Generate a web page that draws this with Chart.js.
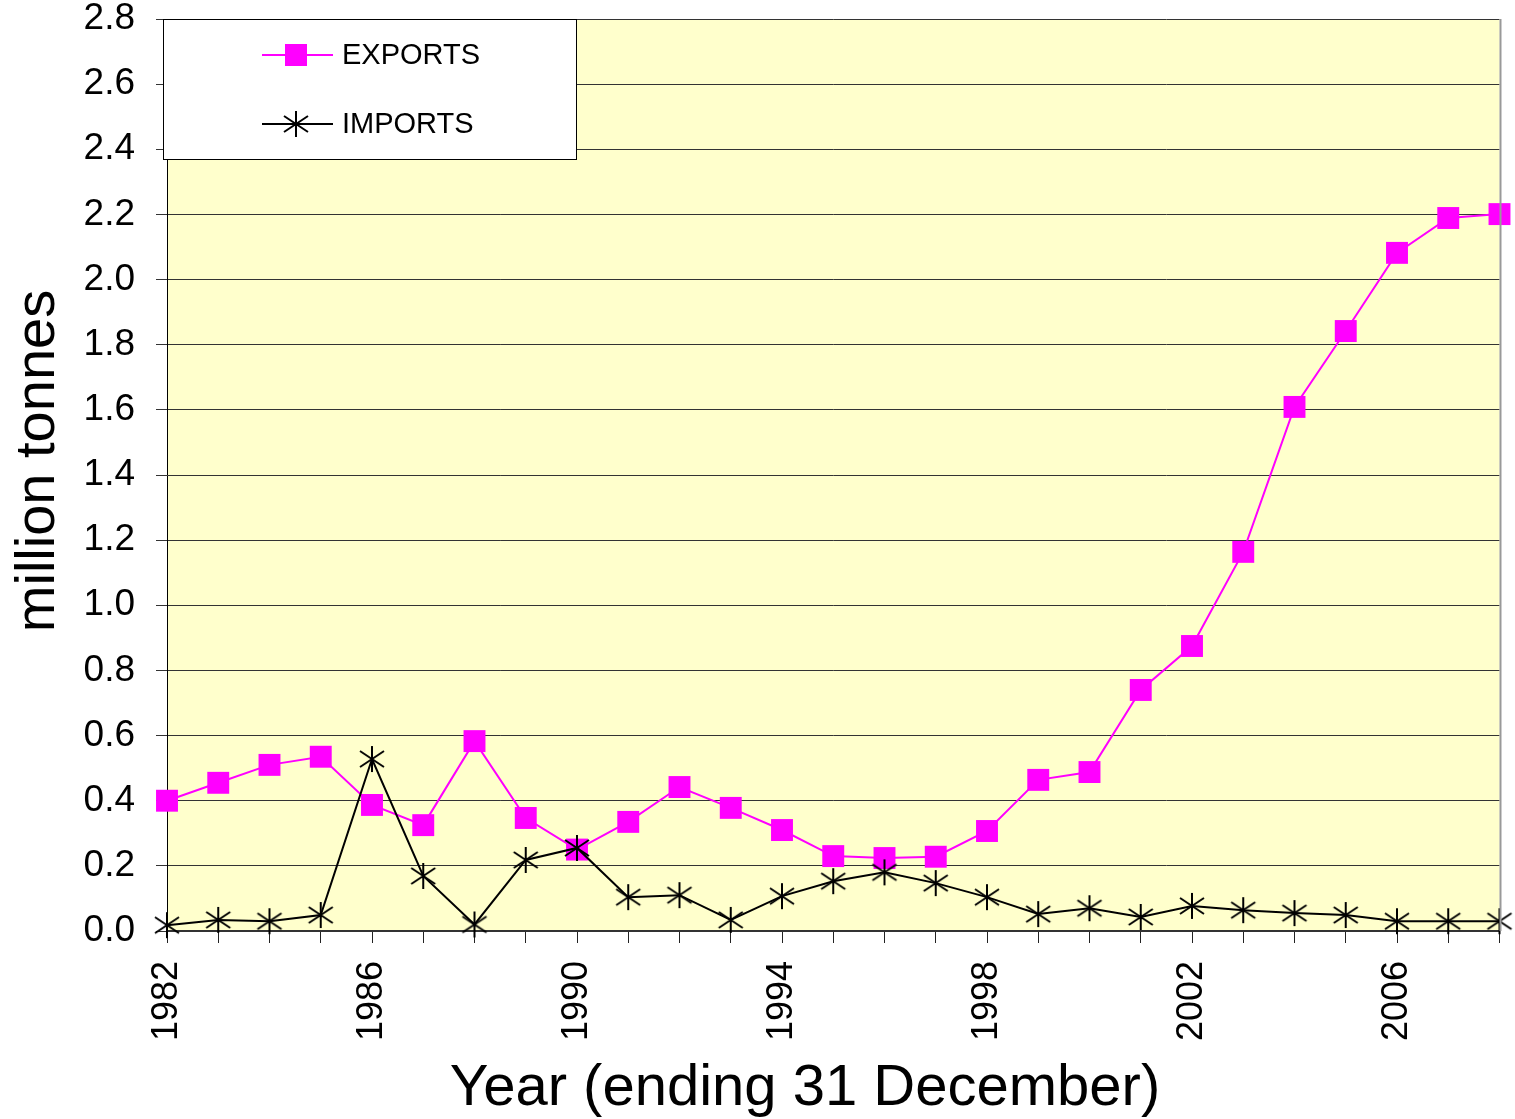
<!DOCTYPE html>
<html>
<head>
<meta charset="utf-8">
<script src="https://cdn.jsdelivr.net/npm/chart.js@4/dist/chart.umd.min.js"></script>
<style>
  body { margin: 0; background: #fff; }
  canvas { display: block; }
</style>
</head>
<body>
<canvas id="tradeChart" width="1515" height="1119"></canvas>
<script>
const years = ['1982', '1983', '1984', '1985', '1986', '1987', '1988', '1989', '1990', '1991',
               '1992', '1993', '1994', '1995', '1996', '1997', '1998', '1999', '2000', '2001',
               '2002', '2003', '2004', '2005', '2006', '2007', '2008'];

const exportsData = [0.40, 0.455, 0.51, 0.535, 0.387, 0.325, 0.583, 0.347, 0.25, 0.335,
                     0.442, 0.378, 0.31, 0.23, 0.224, 0.228, 0.307, 0.464, 0.488, 0.74,
                     0.875, 1.164, 1.609, 1.842, 2.082, 2.189, 2.201];

const importsData = [0.018, 0.034, 0.03, 0.049, 0.528, 0.169, 0.02, 0.218, 0.255, 0.104,
                     0.11, 0.034, 0.107, 0.153, 0.18, 0.147, 0.104, 0.052, 0.07, 0.043,
                     0.077, 0.064, 0.055, 0.049, 0.03, 0.03, 0.03];

const yearTicks = ['1982', '1986', '1990', '1994', '1998', '2002', '2006'];

const FONT = 'Arial, "Liberation Sans", sans-serif';

// asterisk marker: an X with a vertical stroke through it
function makeAsterisk() {
    const c = document.createElement('canvas');
    c.width = 28;
    c.height = 28;
    const g = c.getContext('2d');
    g.strokeStyle = '#000';
    g.lineWidth = 2;
    g.beginPath();
    g.moveTo(14, 1); g.lineTo(14, 27);
    g.moveTo(2, 6); g.lineTo(26, 22);
    g.moveTo(2, 22); g.lineTo(26, 6);
    g.stroke();
    return c;
}
const asterisk = makeAsterisk();

// fixed axis sizes, no extra padding for overhanging labels
function fixBox(w, h) {
    return (scale) => {
        if (w) scale.width = w;
        if (h) scale.height = h;
        scale.paddingLeft = 0;
        scale.paddingRight = 0;
        scale.paddingTop = 0;
        scale.paddingBottom = 0;
    };
}

const plotBackground = {
    id: 'plotBackground',
    beforeDraw(chart) {
        const {ctx, chartArea: a} = chart;
        ctx.save();
        ctx.fillStyle = '#ffffcc';
        ctx.fillRect(a.left, a.top, a.right - a.left, a.bottom - a.top);
        ctx.restore();
    },
    afterDatasetsDraw(chart) {
        const {ctx, chartArea: a} = chart;
        ctx.save();
        ctx.strokeStyle = '#999';
        ctx.lineWidth = 2;
        ctx.beginPath();
        ctx.moveTo(a.right + 1, a.top);
        ctx.lineTo(a.right + 1, a.bottom);
        ctx.stroke();
        ctx.restore();
    }
};

const boxLegend = {
    id: 'boxLegend',
    afterDraw(chart) {
        const ctx = chart.ctx;
        ctx.save();
        ctx.fillStyle = '#fff';
        ctx.fillRect(163, 19, 414, 141);
        ctx.strokeStyle = '#000';
        ctx.lineWidth = 1;
        ctx.strokeRect(163.5, 19.5, 413, 140);

        const rows = [
            {label: 'EXPORTS', ds: chart.data.datasets[1], y: 55},
            {label: 'IMPORTS', ds: chart.data.datasets[0], y: 124}
        ];
        rows.forEach(r => {
            ctx.strokeStyle = r.ds.borderColor;
            ctx.lineWidth = r.ds.borderWidth;
            ctx.beginPath();
            ctx.moveTo(262, r.y);
            ctx.lineTo(333, r.y);
            ctx.stroke();
            if (r.ds.pointStyle === 'rect') {
                ctx.fillStyle = r.ds.pointBackgroundColor;
                ctx.fillRect(285, r.y - 11, 22, 22);
            } else {
                ctx.drawImage(r.ds.pointStyle, 296 - 14, r.y - 14);
            }
            ctx.fillStyle = '#000';
            ctx.font = '29px ' + FONT;
            ctx.textAlign = 'left';
            ctx.textBaseline = 'middle';
            ctx.fillText(r.label, 342, r.y + 1);
        });

        // axis titles
        ctx.textAlign = 'center';
        ctx.textBaseline = 'alphabetic';
        ctx.font = '58px ' + FONT;
        ctx.fillText('Year (ending 31 December)', 805, 1105);
        ctx.font = '56px ' + FONT;
        ctx.translate(54, 461);
        ctx.rotate(-Math.PI / 2);
        ctx.fillText('million tonnes', 0, 0);
        ctx.restore();
    }
};

new Chart(document.getElementById('tradeChart'), {
    type: 'line',
    data: {
        labels: years,
        datasets: [
            {
                label: 'IMPORTS',
                data: importsData,
                borderColor: '#000',
                borderWidth: 2,
                pointStyle: asterisk,
                tension: 0,
                clip: false,
                order: 0
            },
            {
                label: 'EXPORTS',
                data: exportsData,
                borderColor: '#ff00ff',
                borderWidth: 2,
                pointStyle: 'rect',
                pointRadius: 15.5,
                pointBackgroundColor: '#ff00ff',
                pointBorderColor: '#ff00ff',
                pointBorderWidth: 0,
                tension: 0,
                clip: false,
                order: 1
            }
        ]
    },
    options: {
        responsive: false,
        animation: false,
        layout: {
            padding: {top: 19, right: 12, left: 0, bottom: 0}
        },
        plugins: {
            legend: {display: false},
            tooltip: {enabled: false}
        },
        scales: {
            x: {
                offset: false,
                afterFit: fixBox(0, 188),
                grid: {
                    drawOnChartArea: false,
                    tickLength: 12,
                    color: '#222'
                },
                border: {color: '#333', width: 2},
                ticks: {
                    autoSkip: false,
                    maxRotation: 90,
                    minRotation: 90,
                    padding: 18,
                    color: '#000',
                    font: {family: FONT, size: 36, lineHeight: 1},
                    callback: function(value) {
                        const y = this.getLabelForValue(value);
                        return yearTicks.includes(y) ? y : '';
                    }
                }
            },
            y: {
                min: 0,
                max: 2.8,
                afterFit: fixBox(167, 0),
                grid: {
                    color: '#333',
                    lineWidth: 1,
                    tickLength: 11
                },
                border: {color: '#000', width: 1},
                ticks: {
                    stepSize: 0.2,
                    padding: 21,
                    color: '#000',
                    font: {family: FONT, size: 37, lineHeight: 1},
                    callback: (value) => value.toFixed(1)
                }
            }
        }
    },
    plugins: [plotBackground, boxLegend]
});
</script>
</body>
</html>
